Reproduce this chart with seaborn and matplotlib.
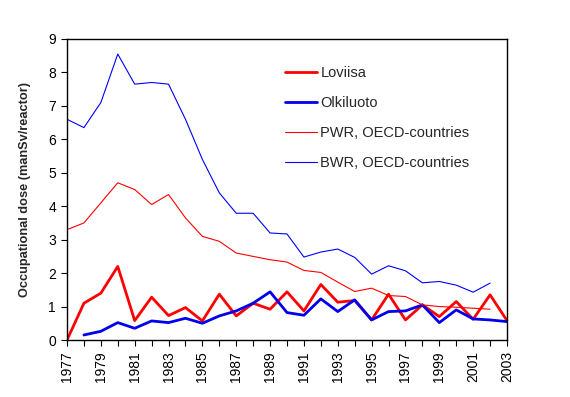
import numpy as np
import pandas as pd
import matplotlib as mpl
from matplotlib import pyplot as plt
import seaborn as sns

# values (manSv/reactor)
years = list(range(1977, 2004))
loviisa = [0.0, 1.1, 1.4, 2.2, 0.58, 1.28, 0.73, 0.97, 0.57, 1.37, 0.72, 1.1, 0.92,
           1.44, 0.87, 1.66, 1.13, 1.18, 0.6, 1.37, 0.6, 1.05, 0.7, 1.15, 0.62, 1.35, 0.58]
olkiluoto_years = list(range(1978, 2004))
olkiluoto = [0.15, 0.26, 0.52, 0.35, 0.57, 0.52, 0.65, 0.5, 0.72, 0.87, 1.1, 1.44,
             0.82, 0.74, 1.23, 0.85, 1.2, 0.6, 0.85, 0.87, 1.05, 0.52, 0.9, 0.63, 0.6, 0.55]
oecd_years = list(range(1977, 2003))
pwr = [3.3, 3.5, 4.1, 4.7, 4.5, 4.05, 4.35, 3.65, 3.1, 2.95, 2.6, 2.5, 2.4,
       2.33, 2.08, 2.02, 1.73, 1.45, 1.55, 1.33, 1.3, 1.05, 1.0, 0.98, 0.95, 0.92]
bwr = [6.6, 6.35, 7.1, 8.55, 7.65, 7.7, 7.65, 6.6, 5.4, 4.4, 3.79, 3.79, 3.2,
       3.17, 2.48, 2.63, 2.72, 2.47, 1.97, 2.22, 2.07, 1.71, 1.75, 1.64, 1.43, 1.7]

sns.set_theme(style="ticks", rc={
    "axes.linewidth": 1.0,
    "xtick.major.size": 4,
    "ytick.major.size": 4,
    "xtick.minor.size": 4,
    "xtick.major.width": 0.8,
    "ytick.major.width": 0.8,
    "xtick.minor.width": 0.8,
    "axes.edgecolor": "black",
    "xtick.color": "black",
    "ytick.color": "black",
})
plt.rcParams['font.family'] = ['Liberation Sans', 'DejaVu Sans']

fig = plt.figure(figsize=(5.7, 3.97), dpi=100)
ax = fig.add_axes([67 / 570, 1 - 340 / 397, 440 / 570, 301 / 397])

series = [
    ("Loviisa", years, loviisa, "#ff0000", 2.0),
    ("Olkiluoto", olkiluoto_years, olkiluoto, "#0000ee", 2.0),
    ("PWR, OECD-countries", oecd_years, pwr, "#ff0000", 0.8),
    ("BWR, OECD-countries", oecd_years, bwr, "#0000ff", 0.8),
]
for name, xs, ys, col, lw in series:
    df = pd.DataFrame({"Year": xs, "Dose": ys})
    sns.lineplot(data=df, x="Year", y="Dose", ax=ax, color=col, linewidth=lw, label=name)

ax.set_xlim(1977, 2003)
ax.set_ylim(0, 9)
ax.set_yticks(range(0, 10))
ax.set_xticks(range(1977, 2004, 2))
ax.set_xticks(range(1977, 2004), minor=True)
ax.set_xticklabels([str(y) for y in range(1977, 2004, 2)], rotation=90)
ax.tick_params(axis='both', labelsize=10, pad=4)
ax.set_xlabel("")
ax.set_ylabel("Occupational dose (manSv/reactor)", fontsize=9.2, fontweight='bold', labelpad=12)
for s in ax.spines.values():
    s.set_visible(True)

leg = ax.legend(loc='upper left', bbox_to_anchor=(0.465, 0.955), frameon=False,
                fontsize=10.5, labelspacing=1.1, handlelength=2.2, handletextpad=0.25)

fig.savefig("out.png", dpi=100)
